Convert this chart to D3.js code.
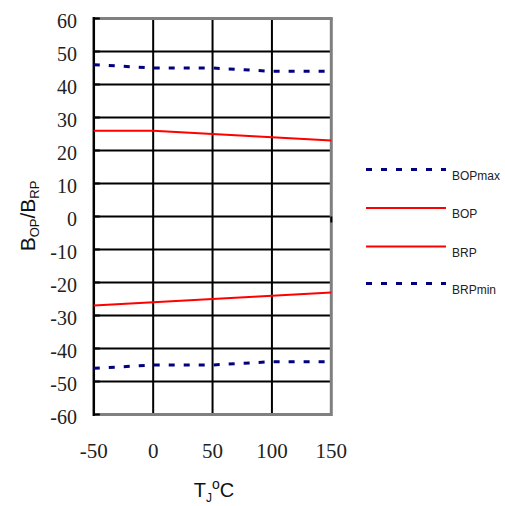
<!DOCTYPE html>
<html><head><meta charset="utf-8">
<script src="https://cdn.jsdelivr.net/npm/d3@7/dist/d3.min.js"></script>
<style>body{margin:0;background:#fff}svg{display:block}</style>
</head><body>
<script>
const temps = [-50, 0, 50, 100, 150];
const BOPmax = [46, 45, 45, 44, 44];
const BOP = [26, 26, 25, 24, 23];
const BRP = [-27, -26, -25, -24, -23];
const BRPmin = [-46, -45, -45, -44, -44];
const xTicks = [-50, 0, 50, 100, 150];
const yTicks = [-60, -50, -40, -30, -20, -10, 0, 10, 20, 30, 40, 50, 60];
const seriesNames = ["BOPmax", "BOP", "BRP", "BRPmin"];

const W = 505, H = 506;
const svg = d3.select("body").append("svg").attr("width", W).attr("height", H);
const x = d3.scaleLinear().domain([-50, 150]).range([93.8, 331.3]);
const y = d3.scaleLinear().domain([-60, 60]).range([414.5, 18.5]);

const series = [
  {name: "BOPmax", values: BOPmax, color: "#000080", dash: "6,9", width: 3},
  {name: "BOP", values: BOP, color: "#ff0000", dash: null, width: 2},
  {name: "BRP", values: BRP, color: "#ff0000", dash: null, width: 2},
  {name: "BRPmin", values: BRPmin, color: "#000080", dash: "6,9", width: 3}
];

// horizontal gridlines
svg.append("g").selectAll("line").data(yTicks).join("line")
  .attr("x1", x(-50)).attr("x2", x(150))
  .attr("y1", d => y(d)).attr("y2", d => y(d))
  .attr("stroke", "#000").attr("stroke-width", 2);
// vertical gridlines
svg.append("g").selectAll("line").data(xTicks.slice(1, -1)).join("line")
  .attr("x1", d => x(d)).attr("x2", d => x(d))
  .attr("y1", y(60)).attr("y2", y(-60))
  .attr("stroke", "#000").attr("stroke-width", 2);

// gray frame: top, right, bottom
const g = "#808080";
svg.append("line").attr("x1", x(-50)).attr("x2", x(150) + 1.5).attr("y1", y(60)).attr("y2", y(60)).attr("stroke", g).attr("stroke-width", 3);
svg.append("line").attr("x1", x(150)).attr("x2", x(150)).attr("y1", y(60)).attr("y2", y(-60) + 1.5).attr("stroke", g).attr("stroke-width", 3);
svg.append("line").attr("x1", x(-50)).attr("x2", x(150)).attr("y1", y(-60)).attr("y2", y(-60)).attr("stroke", g).attr("stroke-width", 3);

// y-axis line with inward ticks
svg.append("g").selectAll("line").data(yTicks).join("line")
  .attr("x1", x(-50)).attr("x2", x(-50) + 6)
  .attr("y1", d => y(d)).attr("y2", d => y(d))
  .attr("stroke", "#000").attr("stroke-width", 2);
svg.append("line").attr("x1", x(-50)).attr("x2", x(-50)).attr("y1", y(60) - 1.5).attr("y2", y(-60) + 1.5)
  .attr("stroke", "#000").attr("stroke-width", 2.5);
// small tick at right end of zero line
svg.append("line").attr("x1", x(150)).attr("x2", x(150)).attr("y1", y(0)).attr("y2", y(0) + 6)
  .attr("stroke", "#000").attr("stroke-width", 2);

// series lines
const line = d3.line().x((d, i) => x(temps[i])).y(d => y(d));
series.forEach(s => {
  svg.append("path").datum(s.values).attr("d", line)
    .attr("fill", "none").attr("stroke", s.color).attr("stroke-width", s.width)
    .attr("stroke-dasharray", s.dash);
});

// y tick labels
svg.append("g").selectAll("text").data(yTicks).join("text")
  .attr("x", 77).attr("y", d => y(d) + 9.5)
  .attr("text-anchor", "end")
  .attr("font-family", "Liberation Serif, Times New Roman, serif").attr("font-size", 20)
  .attr("fill", "#222")
  .text(d => d);
// x tick labels
svg.append("g").selectAll("text").data(xTicks).join("text")
  .attr("x", d => x(d)).attr("y", 458)
  .attr("text-anchor", "middle")
  .attr("font-family", "Liberation Serif, Times New Roman, serif").attr("font-size", 21)
  .attr("fill", "#222")
  .text(d => d);

// x axis title
const xt = svg.append("text").attr("x", 214).attr("y", 497).attr("text-anchor", "middle")
  .attr("font-family", "Liberation Sans, Arial, sans-serif").attr("font-size", 20).attr("fill", "#111");
xt.append("tspan").text("T");
xt.append("tspan").attr("font-size", 12).attr("dy", 5).text("J");
xt.append("tspan").attr("font-size", 14).attr("dy", -13).text("o");
xt.append("tspan").attr("dy", 8).text("C");

// y axis title
const yt = svg.append("text").attr("transform", "translate(35,216) rotate(-90)").attr("text-anchor", "middle")
  .attr("font-family", "Liberation Sans, Arial, sans-serif").attr("font-size", 21).attr("fill", "#111");
yt.append("tspan").text("B");
yt.append("tspan").attr("font-size", 13).attr("dy", 4).text("OP");
yt.append("tspan").attr("dy", -4).text("/B");
yt.append("tspan").attr("font-size", 13).attr("dy", 4).text("RP");

// legend
const legY = [169.5, 208, 246.5, 283.5];
const leg = svg.append("g").selectAll("g").data(series).join("g")
  .attr("transform", (d, i) => `translate(0,${legY[i]})`);
leg.append("line").attr("x1", 366).attr("x2", 446).attr("y1", 0).attr("y2", 0)
  .attr("stroke", d => d.color).attr("stroke-width", d => d.width).attr("stroke-dasharray", d => d.dash);
leg.append("text").attr("x", 452).attr("y", 10).data(seriesNames)
  .attr("font-family", "Liberation Sans, Arial, sans-serif").attr("font-size", 12).attr("fill", "#222")
  .text(d => d);
</script>
</body></html>
